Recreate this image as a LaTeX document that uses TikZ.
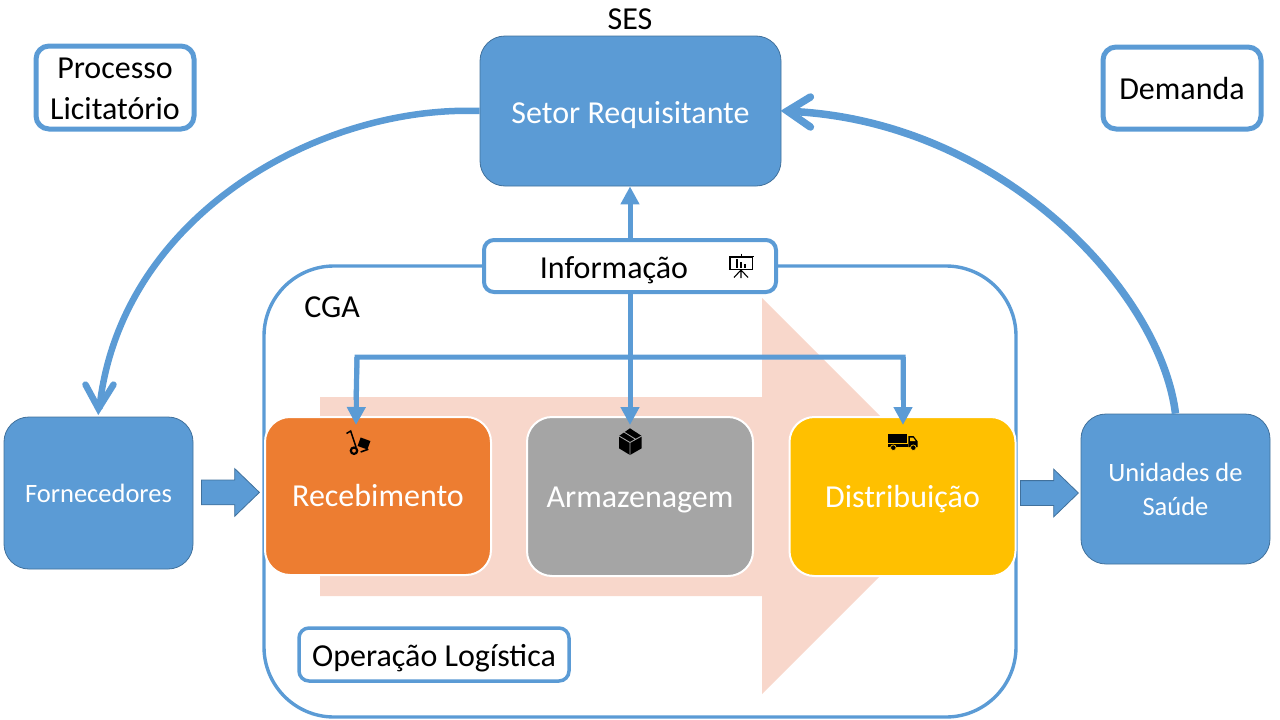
\documentclass[tikz,border=0pt]{standalone}
\usepackage{fontspec}
\setmainfont{Carlito}
\usetikzlibrary{arrows.meta,shapes.arrows,positioning}
\definecolor{bluefill}{HTML}{5B9BD5}
\definecolor{blueedge}{HTML}{41719C}
\definecolor{orangefill}{HTML}{ED7D31}
\definecolor{grayfill}{HTML}{A5A5A5}
\definecolor{goldfill}{HTML}{FFC000}
\definecolor{peach}{HTML}{F8D7CB}
\newcommand{\fs}[2]{\fontsize{#1pt}{#2pt}\selectfont}
\tikzset{
  x=1pt,y=-1pt,
  bluebox/.style={draw=blueedge,line width=0.8pt,fill=bluefill,rounded corners=25pt,text=white,align=center,inner sep=0pt},
  stagebox/.style={draw=white,line width=2pt,rounded corners=25pt,text=white,inner sep=0pt,font=\fs{32}{36},text height=21pt,text depth=0pt},
  labelbox/.style={draw=bluefill,fill=white,rounded corners=10pt,align=center,inner sep=0pt,text=black,font=\fs{32}{40}},
  plain/.style={inner sep=0pt,text=black,font=\fs{32}{36}},
  blockarrow/.style={single arrow,anchor=tail,draw=blueedge,line width=0.8pt,fill=bluefill,inner xsep=0pt,inner ysep=12pt,minimum height=58pt,single arrow head extend=11.5pt,single arrow tip angle=88},
  infoline/.style={draw=bluefill,line width=5pt,-{Triangle[length=18pt,width=18pt,fill=bluefill]}},
  flowcurve/.style={draw=bluefill,shorten >=8pt},
  barb/.style={draw=bluefill,line cap=round,line join=miter},
}
\begin{document}
\begin{tikzpicture}
\useasboundingbox (0,0) rectangle (1280,720);
% big peach arrow
\fill[peach] (320,397) -- (762,397) -- (762,298) -- (960,496) -- (762,694) -- (762,596) -- (320,596) -- cycle;
% CGA frame
\node[draw=bluefill,line width=3.4pt,rounded corners=70pt,minimum width=752pt,minimum height=451pt,inner sep=0pt] (cga) at (640,491.5) {};
% main boxes
\node[bluebox,font=\fs{32}{36},text height=24pt,text depth=0pt,minimum width=301pt,minimum height=150pt] (setor) at (630.5,111) {Setor Requisitante};
\node[bluebox,font=\fs{26.5}{34},minimum width=189pt,minimum height=152pt] (forn) at (98.5,493) {Fornecedores};
\node[bluebox,font=\fs{26.5}{34},minimum width=189pt,minimum height=150pt] (unid) at (1175.5,489) {Unidades de\\Saúde};
\node[stagebox,fill=orangefill,minimum width=226pt,minimum height=158pt] (rec) at (378,496) {Recebimento};
\node[stagebox,fill=grayfill,minimum width=226pt,minimum height=159pt] (arm) at (640,496.5) {Armazenagem};
\node[stagebox,fill=goldfill,minimum width=226pt,minimum height=159pt] (dist) at (902.5,496.5) {Distribuição};
% labels
\node[plain] (ses) at (630,19) {SES};
\node[plain] (cgal) at (332,307) {CGA};
\node[labelbox,line width=5pt,rounded corners=13pt,minimum width=158pt,minimum height=83pt] (proc) at (115,87.5) {};
\node[plain,align=center,font=\fs{32}{41}] (proct) at (115,89) {Processo\\Licitatório};
\node[labelbox,line width=5pt,rounded corners=13pt,minimum width=158pt,minimum height=82pt,text height=23pt,text depth=0pt] (dem) at (1182,88) {Demanda};
\node[labelbox,line width=3.5pt,minimum width=270pt,minimum height=53pt,text height=23pt,text depth=0pt] (oper) at (434,654.5) {Operação Logística};
% arrow connectors
\coordinate (infoTop) at (630,240);
\coordinate (infoBot) at (630,292);
\coordinate (busL) at (357,357);
\coordinate (busR) at (903,357);
\coordinate (tipL) at (356,425);
\coordinate (tipC) at (630,425);
\coordinate (tipR) at (903,425);
\draw[infoline] (infoTop) -- (setor.south -| infoTop);
\draw[infoline] (infoBot) -- (tipC);
\draw[draw=bluefill,line width=5pt,line join=miter] (tipL |- 0,400) -- (busL) -- (busR) -- (tipR |- 0,400);
\draw[infoline] (busL) -- (tipL);
\draw[infoline] (busR) -- (tipR);
% information box
\node[labelbox,line width=4pt,minimum width=292pt,minimum height=52pt] (info) at (630,266) {};
\node[plain] (infot) at (614,270.5) {Informação};
% block arrows
\node[blockarrow] (a1) at (201,492.4) {};
\node[blockarrow] (a2) at (1020,493) {};
% curved arrows
\draw[flowcurve,line width=6.5pt] (setor.west) .. controls (320,105) and (120,215) .. (forn.north);
\draw[barb,line width=6.5pt] ([shift={(-13,-32)}]forn.north) -- ([shift={(0,-8)}]forn.north) -- ([shift={(15,-32)}]forn.north);
\draw[flowcurve,line width=7.5pt] (unid.north) .. controls (1160,290) and (1000,120) .. (setor.east);
\draw[barb,line width=7.5pt] ([shift={(29,-14)}]setor.east) -- ([shift={(6,0)}]setor.east) -- ([shift={(29,16)}]setor.east);
% icon: presentation
\begin{scope}[black]
\draw[line width=1.5pt] (729,256.5) -- (754,256.5);
\draw[line width=1.2pt] (730,257) rectangle (752.5,269.5);
\draw[line width=1pt] (741,253.5) -- (741,256);
\fill (736,259) rectangle (738.3,268);
\fill (740,261.7) rectangle (742.3,268);
\fill (744,264.3) rectangle (746,268);
\draw[line width=1.1pt] (741,270) -- (734,277.5) (741,270) -- (748,277.5) (741,270) -- (741,278);
% icon: hand truck
\draw[line width=1.5pt] (346.5,433.5) -- (350.7,431) -- (356,447);
\draw[line width=2.2pt] (354,450.7) circle (3.2);
\fill[rotate around={-20:(364,443.5)}] (358.8,439) rectangle (369.2,448);
\draw[line width=1.6pt] (360.7,452) -- (368.3,449.2);
% icon: box
\fill (630,428.3) -- (641.7,436) -- (641.7,448.3) -- (630,455) -- (619,448.3) -- (619,436) -- cycle;
\draw[grayfill,line width=0.9pt] (619,436) -- (630,442.5) -- (641.7,436) (630,442.5) -- (630,455) (624,432) -- (636,439.5);
% icon: truck
\fill (888.3,434) rectangle (906.7,443.3);
\fill (888.3,444.2) rectangle (907.5,446.8);
\fill (908.3,436) -- (913.5,436) -- (917.7,441.5) -- (917.7,447) -- (908.3,447) -- cycle;
\fill[goldfill] (910,437.5) -- (913,437.5) -- (915.5,441) -- (910,441) -- cycle;
\fill[black,draw=goldfill,line width=0.7pt] (893.3,447.7) circle (2.8) (913.3,447.7) circle (2.8);
\end{scope}
\end{tikzpicture}
\end{document}
